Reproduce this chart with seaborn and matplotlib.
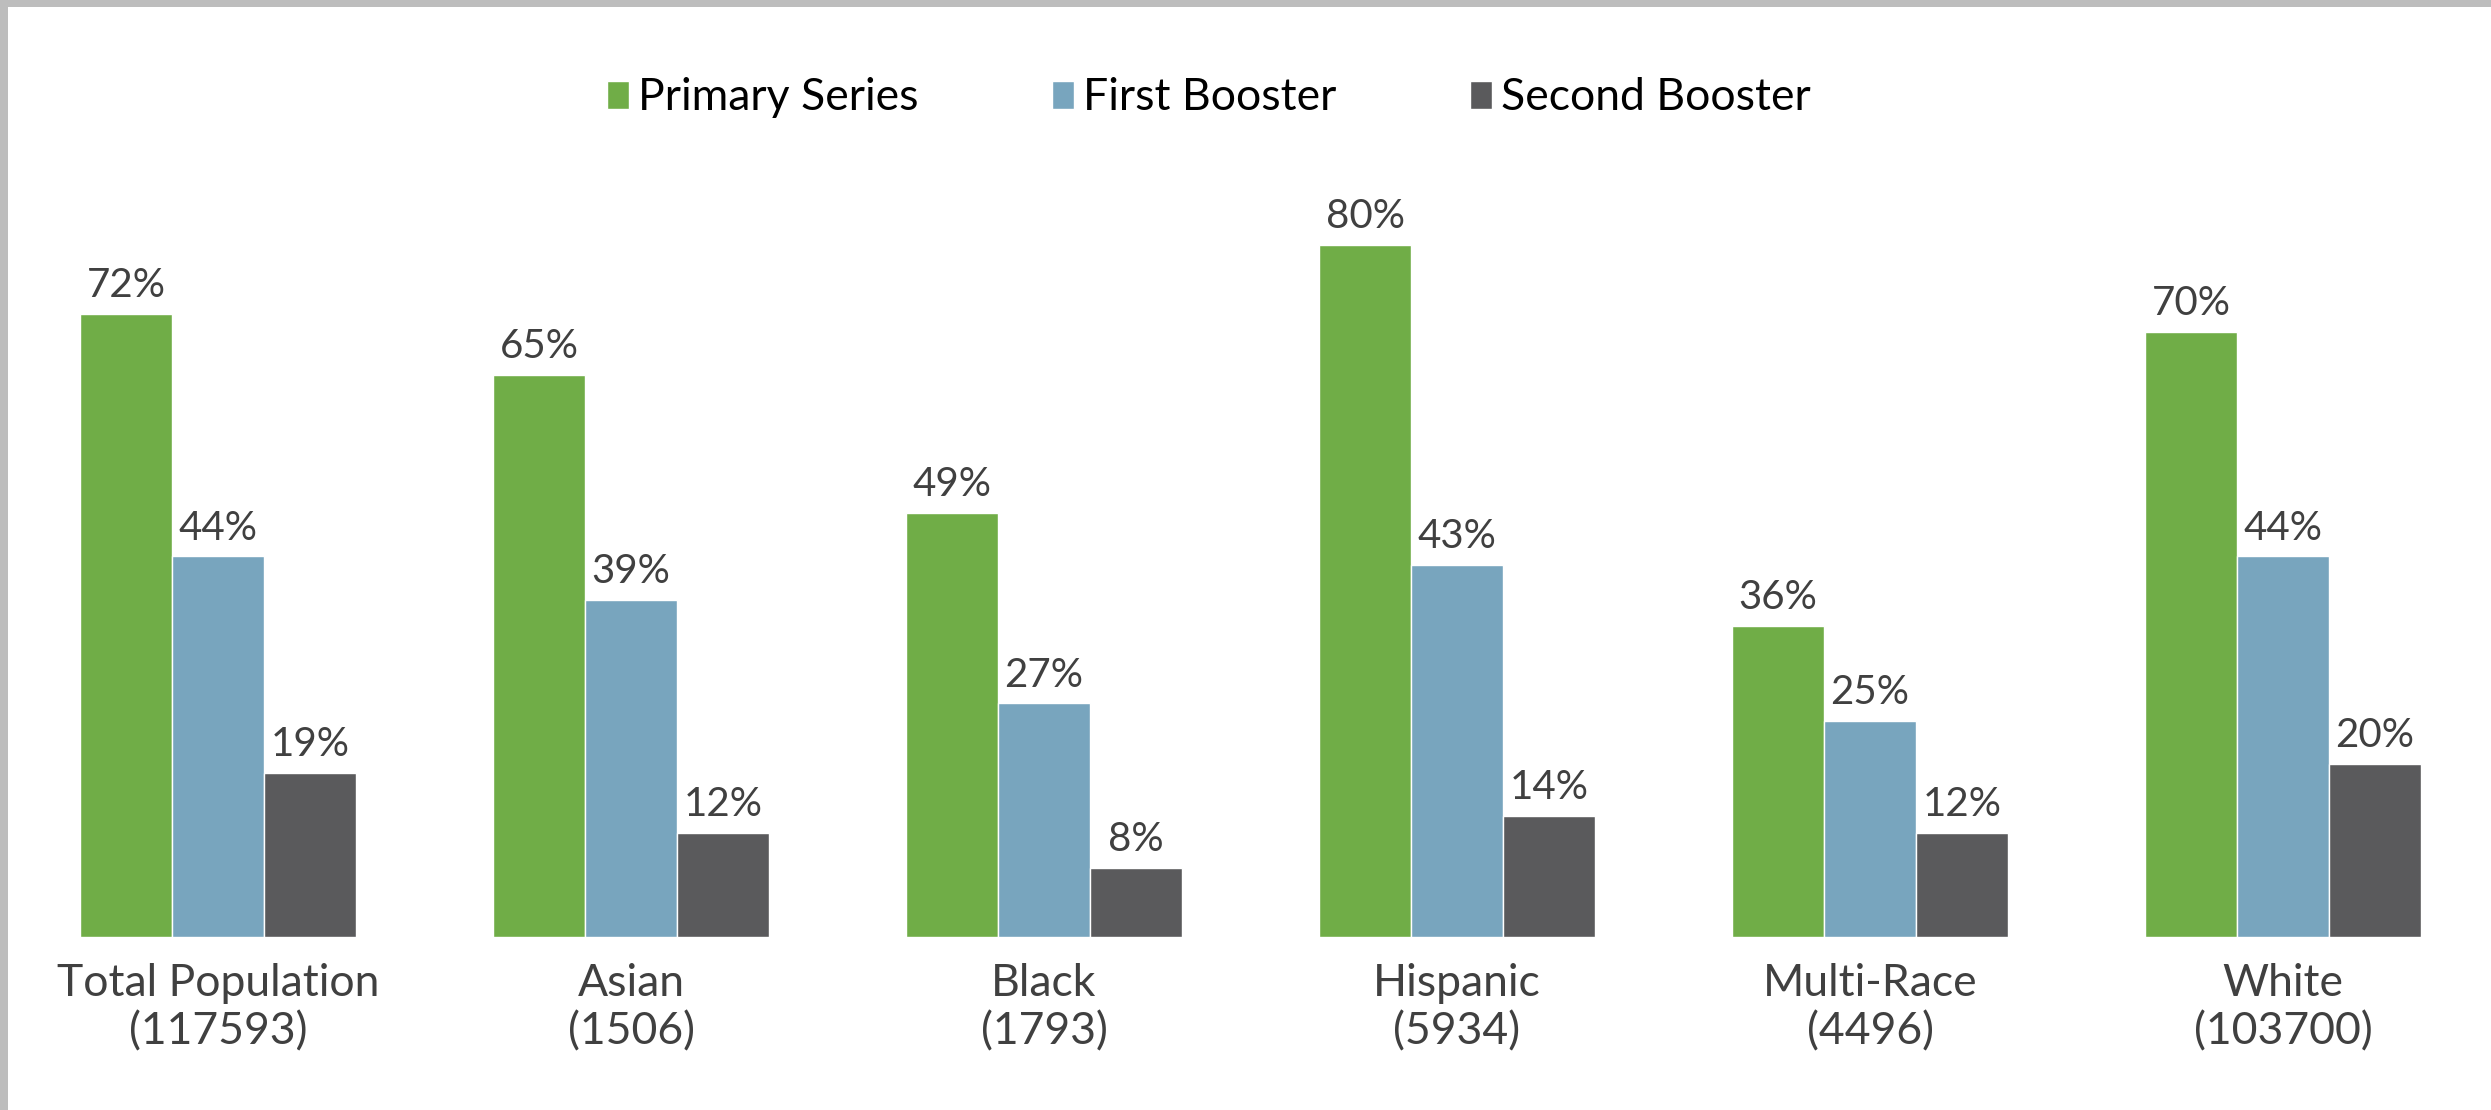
import matplotlib
matplotlib.use("Agg")
import matplotlib.pyplot as plt
from matplotlib.patches import Rectangle
import pandas as pd
import seaborn as sns

groups = ["Total Population", "Asian", "Black", "Hispanic", "Multi-Race", "White"]
counts = ["117593", "1506", "1793", "5934", "4496", "103700"]
series = ["Primary Series", "First Booster", "Second Booster"]
primary = [72, 65, 49, 80, 36, 70]
first_booster = [44, 39, 27, 43, 25, 44]
second_booster = [19, 12, 8, 14, 12, 20]
colors = ["#70AD47", "#78A5BE", "#5A5A5C"]

rows = []
for vals, name in zip([primary, first_booster, second_booster], series):
    for g, v in zip(groups, vals):
        rows.append({"group": g, "series": name, "value": v})
df = pd.DataFrame(rows)

sns.set_theme(style="white")
plt.rcParams["font.family"] = ["Lato", "DejaVu Sans"]

W, H = 2491, 1110
fig = plt.figure(figsize=(W / 100, H / 100), dpi=100)
base_px = 937          # baseline from top
px_per_pct = 8.65
top_px = 200
ax = fig.add_axes([0, (H - base_px) / H, 1, (base_px - top_px) / H])

sns.barplot(data=df, x="group", y="value", hue="series", order=groups,
            hue_order=series, palette=colors, saturation=1, width=0.668,
            gap=0, edgecolor="white", linewidth=1, ax=ax)

for cont in ax.containers:
    vals = [b.get_height() for b in cont]
    ax.bar_label(cont, labels=[f"{v:.0f}%" for v in vals], padding=7,
                 fontsize=29, color="#404040")

ax.set_xlim(-218 / 413, (W - 218) / 413)
ax.set_ylim(0, (base_px - top_px) / px_per_pct)
ax.set_xticks(range(len(groups)))
ax.set_xticklabels([f"{g}\n({c})" for g, c in zip(groups, counts)],
                   fontsize=32, color="#404040", linespacing=1.2)
ax.tick_params(axis="x", length=0, pad=19)
ax.set_yticks([])
ax.set_xlabel("")
ax.set_ylabel("")
for s in ax.spines.values():
    s.set_visible(False)

handles, labels = ax.get_legend_handles_labels()
leg = ax.legend(handles, labels, loc="center",
                bbox_to_anchor=(1209 / W, 1 - 98 / H),
                bbox_transform=fig.transFigure, ncol=3, frameon=False,
                fontsize=32, handlelength=0.5, handleheight=0.6,
                handletextpad=0.2, columnspacing=3.0)
for t in leg.get_texts():
    t.set_color("black")

# grey frame on left and top
fig.add_artist(Rectangle((0, 0), 8 / W, 1, transform=fig.transFigure,
                         color="#BDBDBD", lw=0))
fig.add_artist(Rectangle((0, 1 - 7 / H), 1, 7 / H, transform=fig.transFigure,
                         color="#BDBDBD", lw=0))

fig.savefig("out.png", dpi=100, facecolor="white")
